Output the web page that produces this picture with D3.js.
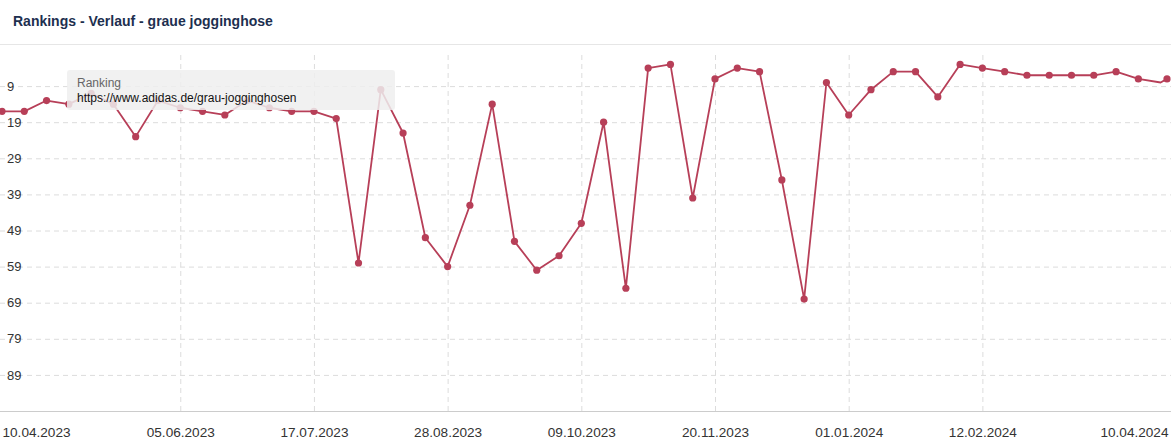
<!DOCTYPE html>
<html>
<head>
<meta charset="utf-8">
<script src="https://cdn.jsdelivr.net/npm/d3@7"></script>
<style>
  html, body { margin: 0; padding: 0; background: #fff; }
  svg { display: block; }
</style>
</head>
<body>
<svg id="chart" width="1171" height="442"></svg>
<script>
const title = "Rankings - Verlauf - graue jogginghose";
const seriesName = "Ranking";
const seriesUrl = "https://www.adidas.de/grau-jogginghosen";

const dates = [
  "2023-04-10","2023-04-17","2023-04-24","2023-05-01","2023-05-08","2023-05-15","2023-05-22","2023-05-29",
  "2023-06-05","2023-06-12","2023-06-19","2023-06-26","2023-07-03","2023-07-10","2023-07-17","2023-07-24",
  "2023-07-31","2023-08-07","2023-08-14","2023-08-21","2023-08-28","2023-09-04","2023-09-11","2023-09-18",
  "2023-09-25","2023-10-02","2023-10-09","2023-10-16","2023-10-23","2023-10-30","2023-11-06","2023-11-13",
  "2023-11-20","2023-11-27","2023-12-04","2023-12-11","2023-12-18","2023-12-25","2024-01-01","2024-01-08",
  "2024-01-15","2024-01-22","2024-01-29","2024-02-05","2024-02-12","2024-02-19","2024-02-26","2024-03-04",
  "2024-03-11","2024-03-18","2024-03-25","2024-04-01","2024-04-08","2024-04-10"
];
const rankings = [
  16,16,13,14,11,14,23,13,
  15,16,17,13,15,16,16,18,
  58,10,22,51,59,42,14,52,
  60,56,47,19,65,4,3,40,
  7,4,5,35,68,8,17,10,
  5,5,12,3,4,5,6,6,
  6,6,5,7,8,7
];
const noMarkerDates = ["2024-04-08"];

const xTickLabels = ["10.04.2023","05.06.2023","17.07.2023","28.08.2023","09.10.2023","20.11.2023","01.01.2024","12.02.2024","10.04.2024"];
const yTickValues = [9,19,29,39,49,59,69,79,89];
const yDomain = [-1, 99];

const W = 1171, H = 442;
const plot = { left: 0, right: 1171, top: 50, bottom: 411 };
const parseISO = d3.timeParse("%Y-%m-%d");
const parseDE = d3.timeParse("%d.%m.%Y");
const data = dates.map((d, i) => ({ date: parseISO(d), value: rankings[i], marker: !noMarkerDates.includes(d) }));

const svg = d3.select("#chart");

const x = d3.scaleTime()
  .domain(d3.extent(data, d => d.date))
  .range([2, 1167]);
const y = d3.scaleLinear().domain(yDomain).range([plot.top, plot.bottom]);

const lineColor = "#b73f58";
const gridColor = "#dcdcdc";
const font = "'Liberation Sans', Arial, sans-serif";

// title
svg.append("text")
  .attr("x", 13).attr("y", 26)
  .attr("font-family", font).attr("font-weight", "bold").attr("font-size", 14)
  .attr("fill", "#1d2f4f")
  .text(title);
svg.append("line").attr("x1", 0).attr("x2", W).attr("y1", 44.5).attr("y2", 44.5)
  .attr("stroke", "#e6e6e6");

// horizontal grid
const yGrid = d3.axisLeft(y).tickValues(yTickValues).tickSize(-W).tickFormat("");
svg.append("g").call(yGrid)
  .call(g => g.select(".domain").remove())
  .call(g => g.selectAll("line").attr("stroke", gridColor).attr("stroke-dasharray", "5,4"));

// vertical grid at inner tick dates
const tickDates = xTickLabels.map(parseDE);
const innerTicks = tickDates.slice(1, -1);
const xGrid = d3.axisBottom(x).tickValues(innerTicks).tickSize(-(plot.bottom - 52)).tickFormat("");
svg.append("g").attr("transform", `translate(0,${plot.bottom})`).call(xGrid)
  .call(g => g.select(".domain").remove())
  .call(g => g.selectAll("line").attr("stroke", gridColor).attr("stroke-dasharray", "5,4"));

// y labels
const yAxis = d3.axisRight(y).tickValues(yTickValues).tickSize(0).tickPadding(0);
svg.append("g").attr("transform", "translate(7,0)").call(yAxis)
  .call(g => g.select(".domain").remove())
  .call(g => g.selectAll("text").attr("font-family", font).attr("font-size", 13).attr("fill", "#333"));

// x axis
const xAxis = d3.axisBottom(x).tickValues(tickDates).tickSize(0).tickPadding(16)
  .tickFormat(d3.timeFormat("%d.%m.%Y"));
const xg = svg.append("g").attr("transform", `translate(0,${plot.bottom})`).call(xAxis);
xg.select(".domain").attr("stroke", "#cccccc").attr("d", `M0,0.5H${W}`);
xg.selectAll("text").attr("font-family", font).attr("font-size", 13.6).attr("fill", "#333");
xg.selectAll(".tick").filter((d, i) => i === 0).select("text").attr("text-anchor", "start").attr("x", 0);
xg.selectAll(".tick").filter((d, i, n) => i === n.length - 1).select("text").attr("text-anchor", "end").attr("x", 1);

// line
const line = d3.line().x(d => x(d.date)).y(d => y(d.value));
svg.append("path").datum(data)
  .attr("fill", "none").attr("stroke", lineColor).attr("stroke-width", 1.8)
  .attr("stroke-linejoin", "round")
  .attr("d", line);
svg.append("g").selectAll("circle").data(data.filter(d => d.marker)).join("circle")
  .attr("cx", d => x(d.date)).attr("cy", d => y(d.value)).attr("r", 3.6)
  .attr("fill", lineColor);

// tooltip
const tip = svg.append("g").attr("transform", "translate(67,70)");
tip.append("rect").attr("width", 328).attr("height", 40).attr("rx", 3)
  .attr("fill", "#eeeeee").attr("fill-opacity", 0.85);
tip.append("text").attr("x", 10).attr("y", 16.5)
  .attr("font-family", font).attr("font-size", 12).attr("fill", "#666")
  .text(seriesName);
tip.append("text").attr("x", 10).attr("y", 32)
  .attr("font-family", font).attr("font-size", 12).attr("fill", "#111")
  .text(seriesUrl);
</script>
</body>
</html>
